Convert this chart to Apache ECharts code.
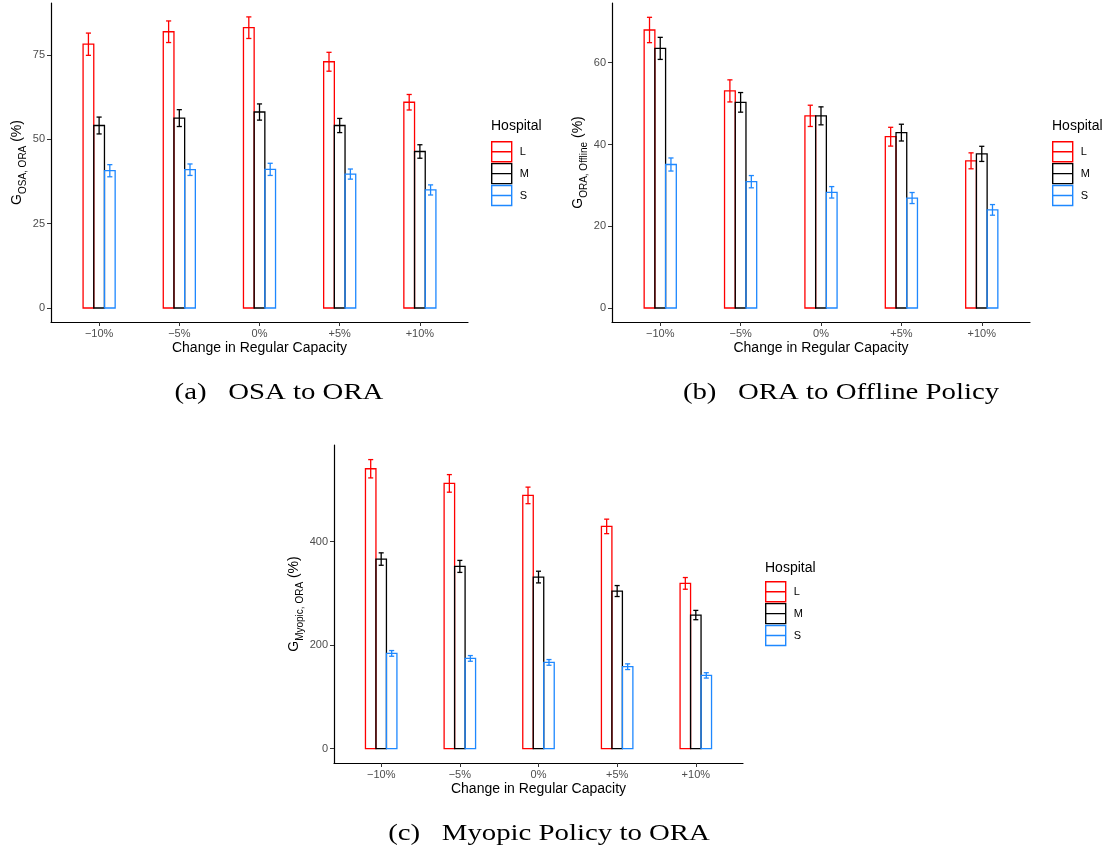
<!DOCTYPE html>
<html>
<head>
<meta charset="utf-8">
<script src="https://cdn.jsdelivr.net/npm/echarts@6/dist/echarts.min.js"></script>
<style>html,body{margin:0;padding:0;background:#fff;}#c{width:1108px;height:854px;}</style>
</head>
<body>
<div id="c"></div>
<script>
// ---- data ----
const categories = ['\u221210%', '\u22125%', '0%', '+5%', '+10%'];
const hospitals = ['L', 'M', 'S'];

// (a) OSA to ORA
const aL = [78.2, 81.9, 83.1, 73.0, 61.0];
const aLErr = [3.3, 3.2, 3.2, 2.8, 2.3];
const aM = [54.1, 56.3, 58.1, 54.1, 46.4];
const aMErr = [2.5, 2.5, 2.4, 2.1, 2.0];
const aS = [40.7, 41.0, 41.1, 39.7, 35.0];
const aSErr = [1.8, 1.7, 1.8, 1.5, 1.5];
const aTicks = [0, 25, 50, 75];

// (b) ORA to Offline Policy
const bL = [68.0, 53.1, 47.0, 41.9, 36.0];
const bLErr = [3.1, 2.7, 2.6, 2.3, 1.95];
const bM = [63.5, 50.3, 47.0, 42.9, 37.7];
const bMErr = [2.7, 2.4, 2.2, 2.05, 1.85];
const bS = [35.1, 30.9, 28.3, 26.9, 24.0];
const bSErr = [1.6, 1.5, 1.4, 1.35, 1.3];
const bTicks = [0, 20, 40, 60];

// (c) Myopic Policy to ORA
const cL = [541, 512.7, 489.5, 429.6, 319.5];
const cLErr = [17.7, 17, 16, 14, 11.3];
const cM = [366.5, 352.3, 331.7, 304.7, 258.3];
const cMErr = [12, 11.6, 11.3, 10.6, 9];
const cS = [184.2, 174.5, 166.8, 158.5, 141.7];
const cSErr = [5.5, 5.5, 5.5, 5.5, 5.2];
const cTicks = [0, 200, 400];

const captions = ['(a)   OSA to ORA', '(b)   ORA to Offline Policy', '(c)   Myopic Policy to ORA'];

// ---- style ----
const colors = ['#FF0000', '#000000', '#1E88FF'];
const BW = 0.4 / 3;      // bar width in category units
const CAP = 0.032;       // half cap width
const FONT = 'Liberation Sans, Arial, sans-serif';

function mkSeries(gi, vals, errs, panel) {
  const col = colors[gi];
  return {
    type: 'custom', name: hospitals[gi], xAxisIndex: panel, yAxisIndex: panel,
    data: vals.map((v, i) => [i, v, errs[i]]),
    encode: { x: 0, y: 1 }, clip: false, silent: true,
    itemStyle: { color: '#fff', borderColor: col, borderWidth: 1.3 },
    renderItem: function (params, api) {
      const x = api.value(0), v = api.value(1), e = api.value(2);
      const c = x + (gi - 1) * BW;
      const p0 = api.coord([c - BW / 2, 0]);
      const p1 = api.coord([c + BW / 2, v]);
      const t = api.coord([c, v + e]);
      const b = api.coord([c, v - e]);
      const cl = api.coord([c - CAP, v])[0];
      const cr = api.coord([c + CAP, v])[0];
      const ls = { stroke: col, lineWidth: 1.3 };
      return {
        type: 'group', children: [
          { type: 'rect', shape: { x: p0[0], y: p1[1], width: p1[0] - p0[0], height: p0[1] - p1[1] },
            style: { fill: 'none', stroke: col, lineWidth: 1.3 } },
          { type: 'line', shape: { x1: t[0], y1: t[1], x2: b[0], y2: b[1] }, style: ls },
          { type: 'line', shape: { x1: cl, y1: t[1], x2: cr, y2: t[1] }, style: ls },
          { type: 'line', shape: { x1: cl, y1: b[1], x2: cr, y2: b[1] }, style: ls }
        ]
      };
    }
  };
}

const grids = [
  { left: 51, top: 3, width: 417, height: 319 },
  { left: 612, top: 3, width: 418, height: 319 },
  { left: 334, top: 445, width: 409, height: 318 }
];
const yRanges = [[-4.15, 90.42], [-3.42, 74.6], [-27.6, 586.9]];
const yTicks = [aTicks, bTicks, cTicks];
const yNames = [
  '{g|G}{s|OSA, ORA}{g| (%)}',
  '{g|G}{s|ORA, Offline}{g| (%)}',
  '{g|G}{s|Myopic, ORA}{g| (%)}'
];
const yGaps = [27, 27, 33];

const axisLineStyle = { show: true, onZero: false, lineStyle: { color: '#000', width: 1.2 } };
const tickStyle = { show: true, length: 4, lineStyle: { color: '#333', width: 1 } };

const xAxes = grids.map((g, k) => ({
  type: 'value', gridIndex: k, min: -0.6, max: 4.6,
  axisLine: axisLineStyle,
  axisTick: Object.assign({ customValues: [0, 1, 2, 3, 4] }, tickStyle),
  axisLabel: { customValues: [0, 1, 2, 3, 4], formatter: v => categories[Math.round(v)],
    color: '#4D4D4D', fontSize: 11, fontFamily: FONT, margin: 6 },
  splitLine: { show: false },
  name: 'Change in Regular Capacity', nameLocation: 'middle', nameGap: 19,
  nameTextStyle: { color: '#000', fontSize: 14, fontFamily: FONT }
}));

const yAxes = grids.map((g, k) => ({
  type: 'value', gridIndex: k, min: yRanges[k][0], max: yRanges[k][1],
  axisLine: axisLineStyle,
  axisTick: Object.assign({ customValues: yTicks[k] }, tickStyle),
  axisLabel: { customValues: yTicks[k], color: '#4D4D4D', fontSize: 11, fontFamily: FONT, margin: 6 },
  splitLine: { show: false },
  name: yNames[k], nameLocation: 'middle', nameGap: yGaps[k],
  nameTextStyle: {
    color: '#000', fontFamily: FONT,
    rich: {
      g: { fontSize: 14, fontFamily: FONT, color: '#000' },
      s: { fontSize: 10, fontFamily: FONT, color: '#000', verticalAlign: 'bottom', padding: [0, 0, -4, 0] }
    }
  }
}));

const legendPos = [[491, 141], [1052, 141], [765, 581]];
const legends = legendPos.map(p => ({
  data: hospitals.map((h, i) => ({
    name: h,
    itemStyle: { color: '#fff', borderColor: colors[i], borderWidth: 1.4 }
  })),
  orient: 'vertical', left: p[0], top: p[1], padding: 0,
  itemWidth: 20, itemHeight: 20, itemGap: 0.5,
  icon: 'path://M0,0H20V20H0ZM0,10H20',
  textStyle: { fontSize: 11, fontFamily: FONT, color: '#000', padding: [0, 0, 0, 3] },
  selectedMode: false
}));

const legendTitles = [[491, 126], [1052, 126], [765, 568]].map(p => ({
  type: 'text', x: p[0], y: p[1],
  style: { text: 'Hospital', fontSize: 14, fontFamily: FONT, fill: '#000', textVerticalAlign: 'middle' }
}));
const captionPos = [[279, 393], [841, 393], [549, 834]];
const captionEls = captionPos.map((p, k) => ({
  type: 'text', x: p[0], y: p[1], scaleX: 1.2,
  style: { text: captions[k], fontSize: 24, fontFamily: 'Liberation Serif, serif', fill: '#000',
    textAlign: 'center', textVerticalAlign: 'middle' }
}));

const series = [
  mkSeries(0, aL, aLErr, 0), mkSeries(1, aM, aMErr, 0), mkSeries(2, aS, aSErr, 0),
  mkSeries(0, bL, bLErr, 1), mkSeries(1, bM, bMErr, 1), mkSeries(2, bS, bSErr, 1),
  mkSeries(0, cL, cLErr, 2), mkSeries(1, cM, cMErr, 2), mkSeries(2, cS, cSErr, 2)
];

const chart = echarts.init(document.getElementById('c'), null, { renderer: 'canvas' });
chart.setOption({
  animation: false,
  backgroundColor: '#fff',
  grid: grids,
  xAxis: xAxes,
  yAxis: yAxes,
  legend: legends,
  graphic: legendTitles.concat(captionEls),
  series: series
});
</script>
</body>
</html>
